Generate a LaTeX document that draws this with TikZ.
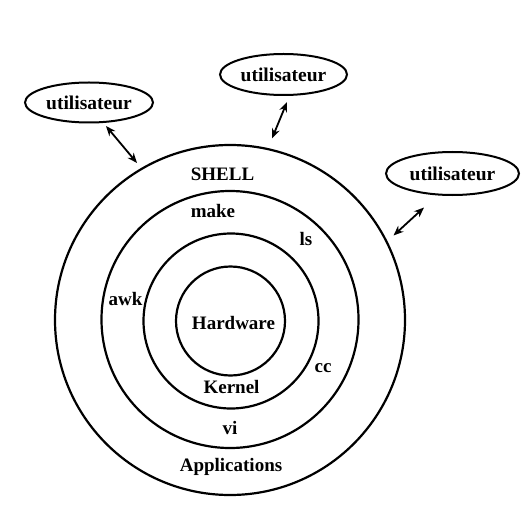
\documentclass[tikz,border=0pt]{standalone}
\usepackage{fontspec}
\setmainfont{Liberation Serif}
\usetikzlibrary{arrows.meta,shapes.geometric}
\begin{document}
\begin{tikzpicture}[x=1bp,y=-1bp,
  ring/.style={draw,circle,line width=2.2bp,inner sep=0pt},
  user/.style={draw,ellipse,line width=2bp,inner sep=0pt,font=\fontsize{19.5bp}{21bp}\selectfont\bfseries},
  lbl/.style={font=\fontsize{19bp}{21bp}\selectfont\bfseries,inner sep=0pt,text height=13bp,text depth=0pt},
  userarrow/.style={line width=1.8bp,{Stealth[length=10bp,width=8bp]}-{Stealth[length=10bp,width=8bp]}}]
\useasboundingbox (0,0) rectangle (530,512);
% rings
\node[ring,minimum size=350bp] (shell) at (230,320) {};
\node[ring,minimum size=257bp] (apps) at (230,319.5) {};
\node[ring,minimum size=175bp] (kernel) at (231,321) {};
\node[ring,minimum size=109bp] (hw) at (230.5,321) {};
% labels
\node[lbl] (tshell) at (222.5,174) {SHELL};
\node[lbl] (tmake) at (213,211) {make};
\node[lbl] (tls) at (306,239) {ls};
\node[lbl] (tawk) at (125.5,299) {awk};
\node[lbl] (thw) at (233.5,323) {Hardware};
\node[lbl] (tcc) at (323,366) {cc};
\node[lbl] (tkernel) at (231.5,387) {Kernel};
\node[lbl] (tvi) at (230,428) {vi};
\node[lbl] (tapps) at (231,465) {Applications};
% users
\node[user,minimum width=128bp,minimum height=40bp] (u1) at (89,102.5) {utilisateur};
\node[user,minimum width=127bp,minimum height=41bp] (u2) at (283.5,74.5) {utilisateur};
\node[user,minimum width=133bp,minimum height=43bp] (u3) at (452.5,173.5) {utilisateur};
% arrows
\coordinate (a1s) at (106,126);
\coordinate (a1e) at (137,163);
\coordinate (a2s) at (287,102);
\coordinate (a2e) at (272,138.5);
\coordinate (a3s) at (424,207.5);
\coordinate (a3e) at (393.5,235.5);
\draw[userarrow] (a1s) -- (a1e);
\draw[userarrow] (a2s) -- (a2e);
\draw[userarrow] (a3s) -- (a3e);
\end{tikzpicture}
\end{document}
